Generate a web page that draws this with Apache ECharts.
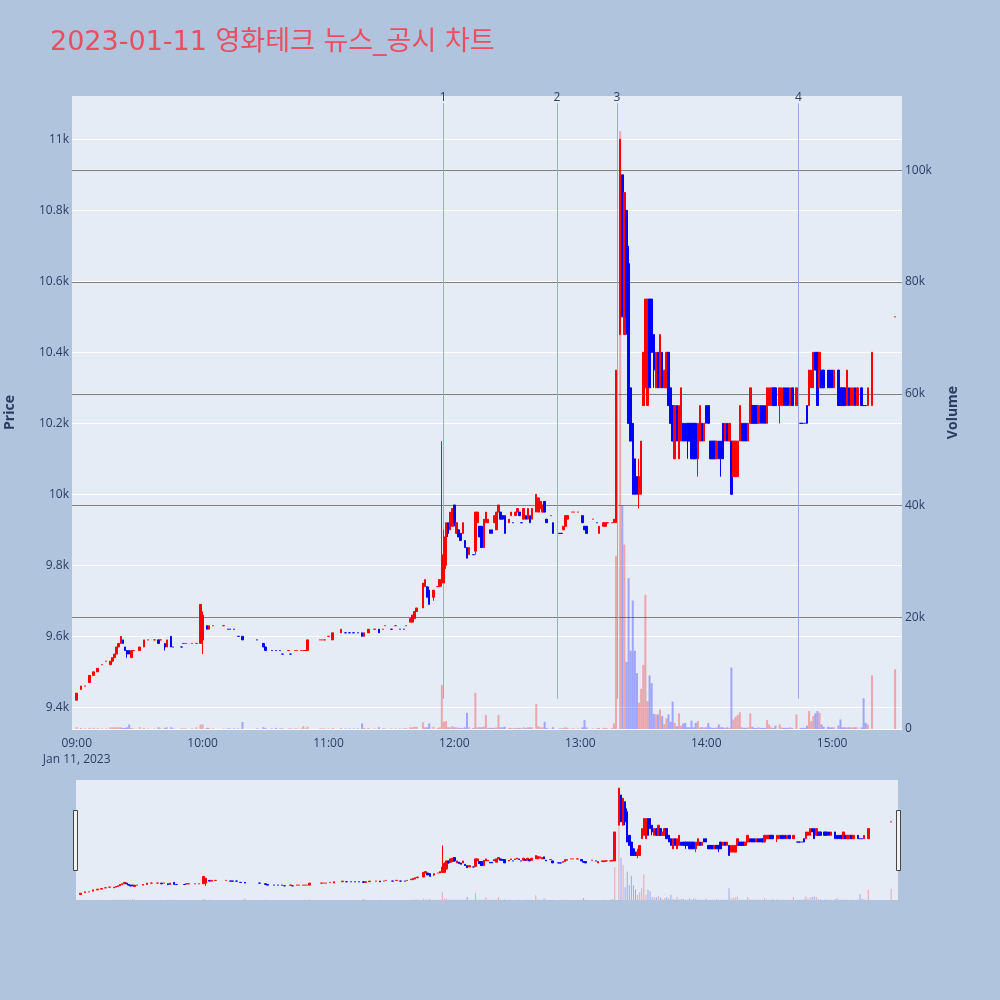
<!DOCTYPE html>
<html>
<head>
<meta charset="utf-8">
<title>영화테크 뉴스_공시 차트</title>
<script src="https://cdn.jsdelivr.net/npm/echarts@6/dist/echarts.min.js"></script>
<style>
  html, body { margin: 0; padding: 0; background: #B0C4DE; }
  #container { width: 1000px; height: 1000px; }
</style>
</head>
<body>
<div id="container"></div>
<script>
var chartTitle = '2023-01-11 영화테크 뉴스_공시 차트';
var hourTicks = ['09:00', '10:00', '11:00', '12:00', '13:00', '14:00', '15:00'];
var dateLabel = 'Jan 11, 2023';

// [time, open, close, low, high]  (close/low/high left out = same as open / body)
var candles = [
  ['09:00', 9420, 9440], ['09:02', 9450, 9460], ['09:04', 9460], ['09:06', 9470, 9490],
  ['09:08', 9490, 9500], ['09:10', 9500, 9510], ['09:12', 9520], ['09:14', 9530],
  ['09:16', 9520, 9530], ['09:17', 9530, 9540], ['09:18', 9540, 9550], ['09:19', 9550, 9570],
  ['09:20', 9570, 9580], ['09:21', 9580, 9600], ['09:22', 9590, 9580], ['09:23', 9570, 9560],
  ['09:24', 9560, 9550, 9540, 9560], ['09:25', 9560, 9550], ['09:26', 9540, 9560], ['09:27', 9560],
  ['09:30', 9560, 9570], ['09:32', 9570, 9590], ['09:34', 9590], ['09:37', 9590],
  ['09:39', 9590, 9580], ['09:40', 9590], ['09:42', 9580, 9570, 9560, 9580], ['09:43', 9570, 9590],
  ['09:45', 9600, 9570], ['09:46', 9570], ['09:50', 9570], ['09:51', 9580], ['09:52', 9580],
  ['09:55', 9580], ['09:57', 9580], ['09:59', 9580, 9690], ['10:00', 9590, 9660, 9550, 9670],
  ['10:02', 9630, 9620], ['10:03', 9620, 9630], ['10:05', 9630], ['10:10', 9630],
  ['10:12', 9620], ['10:13', 9620], ['10:15', 9620], ['10:17', 9600], ['10:19', 9600, 9590],
  ['10:26', 9590], ['10:29', 9580, 9570], ['10:30', 9570, 9560], ['10:33', 9560], ['10:35', 9560],
  ['10:37', 9560], ['10:38', 9550], ['10:41', 9560], ['10:42', 9550], ['10:44', 9560],
  ['10:45', 9560], ['10:47', 9560], ['10:48', 9560], ['10:49', 9560], ['10:50', 9560, 9590],
  ['10:56', 9590], ['10:57', 9590], ['10:58', 9590], ['11:00', 9600], ['11:02', 9590, 9610],
  ['11:06', 9610, 9620], ['11:08', 9610], ['11:10', 9610], ['11:12', 9610], ['11:14', 9610],
  ['11:16', 9610, 9600], ['11:17', 9600, 9610], ['11:19', 9610, 9620], ['11:22', 9620],
  ['11:24', 9620, 9610], ['11:26', 9620], ['11:27', 9630], ['11:30', 9620], ['11:32', 9630],
  ['11:34', 9620], ['11:36', 9620], ['11:37', 9630], ['11:39', 9640, 9650], ['11:40', 9640, 9660],
  ['11:41', 9650, 9670], ['11:42', 9670, 9680], ['11:45', 9680, 9750], ['11:46', 9740, 9760],
  ['11:47', 9740, 9710], ['11:48', 9730, 9690, 9690, 9740], ['11:50', 9710, 9730, 9700, 9730],
  ['11:52', 9740], ['11:53', 9740, 9760], ['11:54', 9750, 9830, 9740, 10150],
  ['11:55', 9750, 9880, 9750, 9900], ['11:56', 9800, 9920, 9790, 9920], ['11:57', 9920, 9890, 9880, 9920],
  ['11:58', 9900, 9950], ['11:59', 9910, 9960], ['12:00', 9970, 9920, 9910, 9970], ['12:01', 9890, 9920],
  ['12:02', 9900, 9880], ['12:03', 9890, 9870], ['12:04', 9890, 9920], ['12:05', 9870, 9850],
  ['12:06', 9850, 9820], ['12:07', 9830, 9850], ['12:09', 9830], ['12:10', 9840, 9950, 9830, 9950],
  ['12:11', 9920, 9950], ['12:12', 9910, 9880], ['12:13', 9910, 9850], ['12:14', 9850, 9930],
  ['12:15', 9920, 9950], ['12:16', 9920, 9930], ['12:17', 9900, 9890], ['12:18', 9900, 9890],
  ['12:19', 9920, 9940], ['12:20', 9900, 9950], ['12:21', 9950, 9970], ['12:22', 9950, 9930],
  ['12:23', 9940, 9930], ['12:24', 9940, 9890], ['12:26', 9920, 9930], ['12:27', 9940, 9950],
  ['12:28', 9920], ['12:29', 9940, 9950], ['12:30', 9950, 9960], ['12:31', 9950, 9940],
  ['12:32', 9920], ['12:33', 9930, 9960], ['12:34', 9940, 9930], ['12:35', 9930, 9960],
  ['12:36', 9940, 9920], ['12:37', 9930, 9960], ['12:39', 9950, 10000], ['12:40', 9950, 9990],
  ['12:41', 9960, 9980], ['12:42', 9950, 9970], ['12:43', 9980, 9950], ['12:44', 9930, 9920],
  ['12:46', 9940], ['12:47', 9920, 9890], ['12:50', 9890], ['12:51', 9890], ['12:52', 9900, 9910],
  ['12:53', 9910, 9940], ['12:54', 9930, 9940], ['12:56', 9950], ['12:57', 9950], ['12:59', 9950],
  ['13:01', 9940, 9920], ['13:02', 9910, 9900], ['13:03', 9910, 9890], ['13:06', 9930],
  ['13:08', 9920], ['13:09', 9890, 9910], ['13:11', 9910, 9920], ['13:12', 9910, 9920],
  ['13:13', 9920], ['13:15', 9920], ['13:16', 9920, 9930], ['13:17', 9920, 10350],
  ['13:19', 10450, 11000], ['13:20', 10900, 10500], ['13:21', 10450, 10850],
  ['13:22', 10800, 10500, 10450, 10800], ['13:23', 10650, 10200, 10200, 10700], ['13:24', 10300, 10150],
  ['13:25', 10200, 10000], ['13:26', 10100, 10000], ['13:27', 10050, 10000],
  ['13:28', 10000, 10050, 9960, 10100], ['13:29', 10000, 10150], ['13:30', 10250, 10400],
  ['13:31', 10300, 10550], ['13:32', 10250, 10550], ['13:33', 10550, 10300], ['13:34', 10550, 10400],
  ['13:35', 10450, 10350, 10300, 10450], ['13:36', 10300, 10400], ['13:37', 10400, 10300],
  ['13:38', 10300, 10450], ['13:39', 10400, 10300], ['13:40', 10300, 10350], ['13:41', 10300, 10400],
  ['13:42', 10400, 10250], ['13:43', 10300, 10200], ['13:44', 10250, 10150], ['13:45', 10100, 10250],
  ['13:46', 10250, 10150], ['13:47', 10100, 10250], ['13:48', 10150, 10300], ['13:49', 10200, 10150],
  ['13:50', 10200, 10150], ['13:51', 10200, 10150, 10100, 10200], ['13:52', 10200, 10150],
  ['13:53', 10200, 10100], ['13:54', 10200, 10100], ['13:55', 10200, 10100],
  ['13:56', 10100, 10200, 10050, 10200], ['13:57', 10150, 10250], ['13:58', 10200, 10150],
  ['13:59', 10150, 10200], ['14:00', 10250, 10200], ['14:01', 10250, 10200], ['14:02', 10150, 10100],
  ['14:03', 10150, 10100], ['14:04', 10150, 10100], ['14:05', 10100, 10150], ['14:06', 10150, 10100],
  ['14:07', 10150, 10100, 10050, 10150], ['14:08', 10200, 10100], ['14:09', 10150, 10200],
  ['14:10', 10200, 10150], ['14:11', 10150, 10200], ['14:12', 10150, 10000], ['14:13', 10050, 10150],
  ['14:14', 10050, 10150], ['14:15', 10050, 10150], ['14:16', 10150, 10250], ['14:17', 10200, 10150],
  ['14:18', 10200, 10150], ['14:19', 10200, 10150], ['14:20', 10150, 10200], ['14:21', 10200, 10300],
  ['14:22', 10250, 10200], ['14:23', 10250, 10200], ['14:24', 10250, 10200], ['14:25', 10200, 10250],
  ['14:26', 10250, 10200], ['14:27', 10250, 10200], ['14:28', 10250, 10200], ['14:29', 10200, 10300],
  ['14:30', 10250, 10300], ['14:31', 10250, 10300], ['14:32', 10300, 10250], ['14:33', 10300, 10250],
  ['14:35', 10250, 10300, 10200, 10300], ['14:36', 10250, 10300], ['14:37', 10300, 10250],
  ['14:38', 10300, 10250], ['14:39', 10300, 10250], ['14:40', 10250, 10300], ['14:41', 10300, 10250],
  ['14:43', 10250, 10300], ['14:45', 10200], ['14:46', 10200], ['14:47', 10200], ['14:48', 10250, 10200],
  ['14:49', 10250, 10350], ['14:50', 10300, 10350], ['14:51', 10300, 10400], ['14:52', 10400, 10350],
  ['14:53', 10400, 10250], ['14:54', 10300, 10400], ['14:55', 10350, 10300], ['14:56', 10350, 10300],
  ['14:58', 10350, 10300], ['14:59', 10350, 10300], ['15:00', 10350, 10300], ['15:01', 10300, 10350],
  ['15:03', 10350, 10250], ['15:04', 10300, 10250], ['15:05', 10300, 10250], ['15:06', 10300, 10250],
  ['15:07', 10250, 10350], ['15:08', 10300, 10250], ['15:09', 10250, 10300], ['15:10', 10250, 10300],
  ['15:11', 10300, 10250], ['15:12', 10250, 10300], ['15:14', 10300, 10250], ['15:15', 10250],
  ['15:16', 10250], ['15:17', 10250, 10300], ['15:19', 10250, 10400], ['15:30', 10500]
];

// [time, volume]
var volumes = [
  ['09:00', 300], ['09:02', 200], ['09:04', 100], ['09:06', 200], ['09:08', 200], ['09:10', 150],
  ['09:12', 100], ['09:14', 100], ['09:16', 300], ['09:17', 300], ['09:18', 300], ['09:19', 300],
  ['09:20', 300], ['09:21', 300], ['09:22', 200], ['09:23', 200], ['09:24', 300], ['09:25', 800],
  ['09:26', 200], ['09:27', 100], ['09:30', 300], ['09:32', 200], ['09:34', 100], ['09:37', 100],
  ['09:39', 300], ['09:40', 100], ['09:42', 200], ['09:43', 300], ['09:45', 300], ['09:46', 100],
  ['09:50', 100], ['09:51', 100], ['09:52', 100], ['09:55', 100], ['09:57', 300], ['09:59', 800],
  ['10:00', 800], ['10:02', 200], ['10:03', 200], ['10:05', 100], ['10:10', 100], ['10:12', 100],
  ['10:13', 100], ['10:15', 100], ['10:17', 100], ['10:19', 1250], ['10:26', 100], ['10:29', 300],
  ['10:30', 150], ['10:33', 100], ['10:35', 200], ['10:37', 100], ['10:38', 100], ['10:41', 100],
  ['10:42', 100], ['10:44', 100], ['10:45', 100], ['10:47', 100], ['10:48', 500], ['10:49', 100],
  ['10:50', 400], ['10:56', 100], ['10:57', 100], ['10:58', 100], ['11:00', 100], ['11:02', 200],
  ['11:06', 200], ['11:08', 100], ['11:10', 100], ['11:12', 100], ['11:14', 100], ['11:16', 1000],
  ['11:17', 200], ['11:19', 200], ['11:22', 100], ['11:24', 300], ['11:26', 100], ['11:27', 100],
  ['11:30', 100], ['11:32', 100], ['11:34', 100], ['11:36', 100], ['11:37', 200], ['11:39', 300],
  ['11:40', 300], ['11:41', 400], ['11:42', 400], ['11:45', 1200], ['11:46', 300], ['11:47', 300],
  ['11:48', 1000], ['11:50', 400], ['11:52', 200], ['11:53', 300], ['11:54', 7900], ['11:55', 1300],
  ['11:56', 1400], ['11:57', 300], ['11:58', 300], ['11:59', 500], ['12:00', 300], ['12:01', 300],
  ['12:02', 200], ['12:03', 200], ['12:04', 200], ['12:05', 300], ['12:06', 2900], ['12:07', 300],
  ['12:09', 200], ['12:10', 6500], ['12:11', 300], ['12:12', 300], ['12:13', 300], ['12:14', 400],
  ['12:15', 2500], ['12:16', 200], ['12:17', 200], ['12:18', 200], ['12:19', 200], ['12:20', 300],
  ['12:21', 2500], ['12:22', 300], ['12:23', 300], ['12:24', 400], ['12:26', 200], ['12:27', 200],
  ['12:28', 100], ['12:29', 200], ['12:30', 200], ['12:31', 200], ['12:32', 100], ['12:33', 300],
  ['12:34', 200], ['12:35', 300], ['12:36', 300], ['12:37', 300], ['12:39', 4500], ['12:40', 500],
  ['12:41', 300], ['12:42', 300], ['12:43', 1300], ['12:44', 200], ['12:46', 100], ['12:47', 300],
  ['12:50', 100], ['12:51', 100], ['12:52', 200], ['12:53', 300], ['12:54', 200], ['12:56', 100],
  ['12:57', 100], ['12:59', 100], ['13:01', 300], ['13:02', 1600], ['13:03', 300], ['13:06', 100],
  ['13:08', 100], ['13:09', 200], ['13:11', 200], ['13:12', 200], ['13:13', 100], ['13:15', 200],
  ['13:16', 1000], ['13:17', 31000], ['13:19', 107000], ['13:20', 40000], ['13:21', 33000],
  ['13:22', 12000], ['13:23', 27000], ['13:24', 14000], ['13:25', 23000], ['13:26', 14000],
  ['13:27', 10000], ['13:28', 4700], ['13:29', 7200], ['13:30', 11500], ['13:31', 24000],
  ['13:32', 5000], ['13:33', 9600], ['13:34', 8200], ['13:35', 2700], ['13:36', 2600], ['13:37', 2600],
  ['13:38', 3500], ['13:39', 2300], ['13:40', 900], ['13:41', 1900], ['13:42', 2600], ['13:43', 1300],
  ['13:44', 4900], ['13:45', 1100], ['13:46', 500], ['13:47', 2800], ['13:48', 600], ['13:49', 1000],
  ['13:50', 1100], ['13:51', 300], ['13:52', 300], ['13:53', 1500], ['13:54', 300], ['13:55', 1100],
  ['13:56', 1400], ['13:57', 300], ['13:58', 300], ['13:59', 300], ['14:00', 300], ['14:01', 1100],
  ['14:02', 300], ['14:03', 200], ['14:04', 200], ['14:05', 300], ['14:06', 800], ['14:07', 300],
  ['14:08', 300], ['14:09', 200], ['14:10', 300], ['14:11', 200], ['14:12', 11000], ['14:13', 1700],
  ['14:14', 2200], ['14:15', 2500], ['14:16', 3000], ['14:17', 300], ['14:18', 200], ['14:19', 200],
  ['14:20', 300], ['14:21', 2800], ['14:22', 400], ['14:23', 200], ['14:24', 200], ['14:25', 300],
  ['14:26', 200], ['14:27', 200], ['14:28', 200], ['14:29', 1600], ['14:30', 800], ['14:31', 300],
  ['14:32', 200], ['14:33', 600], ['14:35', 800], ['14:36', 300], ['14:37', 200], ['14:38', 200],
  ['14:39', 200], ['14:40', 300], ['14:41', 200], ['14:43', 2600], ['14:45', 200], ['14:46', 200],
  ['14:47', 200], ['14:48', 600], ['14:49', 3200], ['14:50', 1400], ['14:51', 2300], ['14:52', 2800],
  ['14:53', 3200], ['14:54', 2900], ['14:55', 800], ['14:56', 400], ['14:58', 400], ['14:59', 300],
  ['15:00', 300], ['15:01', 300], ['15:03', 600], ['15:04', 1700], ['15:05', 300], ['15:06', 300],
  ['15:07', 300], ['15:08', 300], ['15:09', 300], ['15:10', 300], ['15:11', 300], ['15:12', 300],
  ['15:14', 300], ['15:15', 5500], ['15:16', 1100], ['15:17', 800], ['15:19', 9600], ['15:30', 10700]
];

var newsTimes = ['11:54:40', '12:48:50', '13:17:30', '14:44:00'];
var newsLabels = ['1', '2', '3', '4'];

var dom = document.getElementById('container');
var myChart = echarts.init(dom);

var fontFamily = "'Open Sans', 'Noto Sans CJK KR', sans-serif";
var textColor = '#2a3f5f';
var upColor = '#ff0000';
var downColor = '#0000ff';

// axis windows, in minutes after 09:00 and in won / shares
var xMin = -2.24, xMax = 393.3;
var priceMin = 9339, priceMax = 11122;
var volMin = 0, volMax = 113300;
var newsLineLow = 5400, newsLineHigh = 112000;

function toMin(t) {
  var p = t.split(':');
  return (+p[0] - 9) * 60 + (+p[1]) + (p[2] ? +p[2] / 60 : 0);
}
function fmtMin(m) {
  var h = 9 + Math.floor(m / 60), mm = Math.round(m % 60);
  return (h < 10 ? '0' : '') + h + ':' + (mm < 10 ? '0' : '') + mm;
}

var candleData = [], dirByTime = {};
var prevClose = null, prevDir = 1;
candles.forEach(function (r) {
  var o = r[1];
  var c = r.length > 2 ? r[2] : r[1];
  var l = r.length > 3 ? r[3] : Math.min(o, c);
  var h = r.length > 4 ? r[4] : Math.max(o, c);
  var dir;
  if (c > o) dir = 1;
  else if (c < o) dir = -1;
  else if (prevClose === null) dir = 1;
  else dir = c > prevClose ? 1 : (c < prevClose ? -1 : prevDir);
  prevClose = c; prevDir = dir;
  dirByTime[r[0]] = dir;
  var col = dir > 0 ? upColor : downColor;
  candleData.push({
    value: [toMin(r[0]), o, c, l, h],
    itemStyle: { color: col, color0: col, borderColor: col, borderColor0: col, borderColorDoji: col }
  });
});

var volData = volumes.map(function (v) {
  var up = (dirByTime[v[0]] || 1) > 0;
  return {
    value: [toMin(v[0]), v[1]],
    itemStyle: { color: up ? 'rgba(255,0,0,0.3)' : 'rgba(0,0,255,0.3)' }
  };
});

var newsLines = newsTimes.map(function (t, i) {
  return [{ coord: [toMin(t), newsLineLow], name: newsLabels[i] }, { coord: [toMin(t), newsLineHigh] }];
});

var option = {
  backgroundColor: '#B0C4DE',
  animation: false,
  textStyle: { fontFamily: fontFamily },
  title: {
    text: chartTitle,
    left: 50,
    top: 29,
    padding: 0,
    textStyle: { color: '#EA4F61', fontSize: 27, fontWeight: 'normal', fontFamily: "'DejaVu Sans', 'Noto Sans CJK KR', sans-serif" }
  },
  grid: [
    { left: 72, top: 96, width: 830, height: 633, show: true, backgroundColor: '#E5ECF6', borderWidth: 0, outerBoundsMode: 'none' },
    { left: 76, top: 780, width: 822, height: 120, show: true, backgroundColor: '#E5ECF6', borderWidth: 0, outerBoundsMode: 'none' }
  ],
  xAxis: [
    {
      type: 'value', gridIndex: 0, min: xMin, max: xMax,
      axisLine: { show: false }, axisTick: { show: false }, splitLine: { show: false },
      axisLabel: {
        customValues: hourTicks.map(toMin),
        color: textColor, fontSize: 12, margin: 7, lineHeight: 16,
        formatter: function (v) {
          var s = fmtMin(v);
          return s === hourTicks[0] ? s + '\n' + dateLabel : s;
        }
      }
    },
    { type: 'value', gridIndex: 1, min: xMin, max: xMax, show: false }
  ],
  yAxis: [
    {
      type: 'value', gridIndex: 0, position: 'left', min: priceMin, max: priceMax, splitNumber: 8,
      name: 'Price', nameLocation: 'middle', nameGap: 55,
      nameTextStyle: { color: textColor, fontSize: 14, fontWeight: 'bold' },
      axisLine: { show: false }, axisTick: { show: false },
      splitLine: { showMaxLine: false, lineStyle: { color: '#ffffff', width: 1 } },
      axisLabel: {
        color: textColor, fontSize: 12, margin: 3,
        formatter: function (v) { return v % 200 === 0 ? (v / 1000) + 'k' : ''; }
      }
    },
    {
      type: 'value', gridIndex: 0, position: 'right', min: volMin, max: volMax, splitNumber: 5,
      name: 'Volume', nameLocation: 'middle', nameGap: 44,
      nameTextStyle: { color: textColor, fontSize: 14, fontWeight: 'bold' },
      axisLine: { show: false }, axisTick: { show: false },
      splitLine: { showMinLine: false, showMaxLine: false, lineStyle: { color: '#808080', width: 1 } },
      axisLabel: {
        color: textColor, fontSize: 12, margin: 3,
        formatter: function (v) {
          if (v % 20000 !== 0) return '';
          return v === 0 ? '0' : (v / 1000) + 'k';
        }
      }
    },
    { type: 'value', gridIndex: 1, min: priceMin, max: priceMax, show: false },
    { type: 'value', gridIndex: 1, min: volMin, max: volMax, show: false }
  ],
  series: [
    {
      // carrier for the news marker lines, kept under the bars and candles
      type: 'line', xAxisIndex: 0, yAxisIndex: 1, data: [], z: 0, clip: false,
      markLine: {
        silent: true, symbol: ['none', 'none'], animation: false,
        lineStyle: { color: '#97aae6', width: 1, type: 'solid' },
        label: { show: true, position: 'end', distance: 0, formatter: '{b}', color: textColor, fontSize: 12 },
        emphasis: { disabled: true },
        data: newsLines
      }
    },
    {
      type: 'bar', xAxisIndex: 0, yAxisIndex: 1, barWidth: 2, data: volData, z: 1
    },
    {
      type: 'candlestick', xAxisIndex: 0, yAxisIndex: 0, barWidth: 2, z: 6,
      itemStyle: { borderWidth: 1 },
      data: candleData
    },
    {
      type: 'bar', xAxisIndex: 1, yAxisIndex: 3, barWidth: 1, data: volData, z: 1
    },
    {
      type: 'candlestick', xAxisIndex: 1, yAxisIndex: 2, barWidth: 2, z: 6,
      itemStyle: { borderWidth: 1 },
      data: candleData
    }
  ],
  graphic: [
    { type: 'rect', shape: { x: 73.5, y: 810.5, width: 4, height: 60 }, style: { fill: '#f2f2f2', stroke: '#444', lineWidth: 1 } },
    { type: 'rect', shape: { x: 896.5, y: 810.5, width: 4, height: 60 }, style: { fill: '#f2f2f2', stroke: '#444', lineWidth: 1 } }
  ]
};

if (option && typeof option === 'object') {
  myChart.setOption(option, true);
}
</script>
</body>
</html>
